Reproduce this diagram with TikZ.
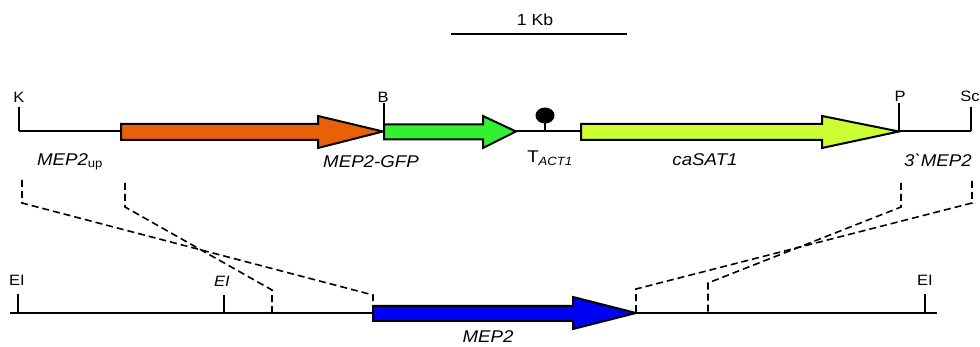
\documentclass[tikz,border=0pt]{standalone}
\usepackage{fontspec}
\setmainfont[FakeStretch=1.1,Ligatures=TeXOff]{Liberation Sans}
\definecolor{orangegene}{RGB}{232,96,10}
\definecolor{greengene}{RGB}{51,240,51}
\definecolor{limegene}{RGB}{204,255,51}
\definecolor{bluegene}{RGB}{0,0,245}
\begin{document}
\begin{tikzpicture}[x=1pt,y=-1pt,
  dna/.style={line width=2pt},
  tick/.style={line width=2pt},
  gene/.style={line width=2pt, line join=miter},
  hom/.style={line width=1.6pt, dash pattern=on 7pt off 4pt},
  site/.style={font=\fontsize{15}{17}\selectfont, inner sep=0pt},
  glabel/.style={font=\fontsize{17}{19}\selectfont\itshape, inner sep=0pt}]
\useasboundingbox (0,0) rectangle (980,347);
% scale bar
\node[inner sep=0pt, font=\fontsize{16}{18}\selectfont] (kb) at (535,20) {1 Kb};
\coordinate (sbl) at (451,34); \coordinate (sbr) at (627,34);
\draw[dna] (sbl) -- (sbr);
% top construct
\coordinate (k) at (19,131); \coordinate (kt) at (19,107);
\coordinate (o0) at (121,131);
\coordinate (b) at (384,131); \coordinate (bt) at (384,103);
\coordinate (g1) at (516,131);
\coordinate (y0) at (581,131);
\coordinate (p) at (899,131); \coordinate (pt) at (899,103);
\coordinate (sc) at (971,131); \coordinate (sct) at (971,107);
\draw[dna] (k) -- (o0);
\draw[dna] (g1) -- (y0);
\draw[dna] (p) -- (sc);
\draw[tick] (k) -- (kt);
\draw[tick] (sc) -- (sct);
\draw[gene, fill=orangegene] (121,124) -- (318,124) -- (318,116) -- (383,131.5) -- (318,148) -- (318,140) -- (121,140) -- cycle;
\draw[gene, fill=greengene] (384,124.5) -- (483,124.5) -- (483,116) -- (516,131.5) -- (483,148) -- (483,139.5) -- (384,139.5) -- cycle;
\draw[gene, fill=limegene] (581,124) -- (822,124) -- (822,116) -- (899,131.5) -- (822,148) -- (822,140) -- (581,140) -- cycle;
\draw[tick] (b) -- (bt);
\draw[tick] (p) -- (pt);
% terminator
\coordinate (tb) at (545,131);
\coordinate (tt) at (545,118);
\draw[line width=2.6pt] (tb) -- (tt);
\fill (545,115.5) ellipse [x radius=9.5, y radius=8];
\node[site] (lk) at (19,97) {K};
\node[site] (lb) at (383,97) {B};
\node[site] (lp) at (900,96) {P};
\node[site] (lsc) at (970,96) {Sc};
\node[glabel] (lup) at (70,162) {MEP2\textsubscript{\upshape up}};
\node[glabel] (lgfp) at (371,162) {MEP2-GFP};
\node[inner sep=0pt, font=\fontsize{17}{19}\selectfont] (lt) at (550,158) {T\textsubscript{\itshape ACT1}};
\node[glabel] (lsat) at (705,160) {caSAT1};
\node[glabel] (l3) at (938,160) {3\char"0060 MEP2};
% bottom locus
\coordinate (bl) at (10,313); \coordinate (br) at (937,313);
\draw[dna] (bl) -- (br);
\coordinate (e1) at (18,313); \coordinate (e1t) at (18,294);
\coordinate (e2) at (224,313); \coordinate (e2t) at (224,295);
\coordinate (e3) at (925,313); \coordinate (e3t) at (925,294);
\draw[tick] (e1) -- (e1t);
\draw[tick] (e2) -- (e2t);
\draw[tick] (e3) -- (e3t);
\node[site] (le1) at (17,280) {EI};
\node[site, font=\fontsize{15}{17}\selectfont\itshape] (le2) at (222,281) {EI};
\node[site] (le3) at (925,280) {EI};
\draw[gene, fill=bluegene] (373,306) -- (573,306) -- (573,297) -- (636,313) -- (573,329) -- (573,321) -- (373,321) -- cycle;
\node[glabel] (lmep) at (488,337) {MEP2};
% homology dashes
\draw[hom] (22,180) -- (22,203) -- (373,295) -- (373,313);
\draw[hom] (125,183) -- (125,207) -- (272,290) -- (272,313);
\draw[hom] (901,183) -- (901,207) -- (708,283) -- (708,313);
\draw[hom] (972,181) -- (972,203) -- (636,289) -- (636,313);
\end{tikzpicture}
\end{document}
